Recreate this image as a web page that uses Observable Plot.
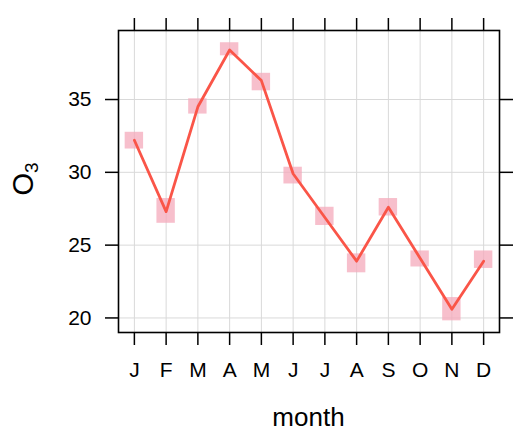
<!DOCTYPE html>
<html>
<head>
<meta charset="utf-8">
<script src="https://cdn.jsdelivr.net/npm/d3@7"></script>
<script src="https://cdn.jsdelivr.net/npm/@observablehq/plot@0.6"></script>
<style>
  html, body { margin: 0; padding: 0; background: #fff; }
  #chart svg { display: block; }
  #chart svg g[aria-label$="tick label"] text { font-size: 21px !important; }
</style>
</head>
<body>
<div id="chart"></div>
<script>
const monthLabels = ["J", "F", "M", "A", "M", "J", "J", "A", "S", "O", "N", "D"];
const monthIndex = [1, 2, 3, 4, 5, 6, 7, 8, 9, 10, 11, 12];
const o3Mean  = [32.2, 27.3, 34.5, 38.4, 36.3, 29.9, 26.9, 23.9, 27.6, 24.1, 20.6, 23.9];
const o3Lower = [31.6, 26.5, 34.0, 38.0, 35.6, 29.2, 26.35, 23.1, 27.0, 23.5, 19.8, 23.4];
const o3Upper = [32.75, 28.2, 35.05, 38.9, 36.8, 30.35, 27.6, 24.4, 28.2, 24.6, 21.4, 24.6];
const yTicks = [20, 25, 30, 35];

const data = monthIndex.map((m, i) => ({
  m, label: monthLabels[i], mean: o3Mean[i], lo: o3Lower[i], hi: o3Upper[i]
}));

const font = "'Liberation Sans', Arial, Helvetica, sans-serif";
const halfBox = 0.29;

const chart = Plot.plot({
  width: 518,
  height: 434,
  marginLeft: 118,
  marginRight: 19,
  marginTop: 30,
  marginBottom: 102,
  style: { fontFamily: font, background: "#fff", color: "#000" },
  x: { type: "linear", domain: [0.5, 12.5] },
  y: { domain: [19.0, 39.74] },
  marks: [
    Plot.gridX(monthIndex, { stroke: "#d9d9d9", strokeOpacity: 1, strokeWidth: 1 }),
    Plot.gridY(yTicks, { stroke: "#d9d9d9", strokeOpacity: 1, strokeWidth: 1 }),
    Plot.rect(data, {
      x1: d => d.m - halfBox, x2: d => d.m + halfBox,
      y1: "lo", y2: "hi",
      fill: "#f4a9bb", fillOpacity: 0.75
    }),
    Plot.line(data, { x: "m", y: "mean", stroke: "#fa5548", strokeWidth: 2.8 }),
    Plot.frame({ stroke: "#000", strokeWidth: 1.6 }),
    Plot.axisX(monthIndex, {
      anchor: "bottom", tickSize: 13, tickPadding: 17,
      strokeWidth: 1.5, tickFormat: i => monthLabels[i - 1], label: null
    }),
    Plot.axisX(monthIndex, {
      anchor: "top", tickSize: 13, strokeWidth: 1.5, tickFormat: () => "", label: null
    }),
    Plot.axisY(yTicks, {
      anchor: "left", tickSize: 13, tickPadding: 14,
      strokeWidth: 1.5, label: null
    }),
    Plot.axisY(yTicks, {
      anchor: "right", tickSize: 13, strokeWidth: 1.5, tickFormat: () => "", label: null
    })
  ]
});

const svg = d3.select(chart);
svg.selectAll("text").attr("font-size", 21).style("font-size", "21px").style("font-family", font);
// x axis title
svg.append("text")
  .attr("x", 308.5).attr("y", 426)
  .attr("text-anchor", "middle")
  .style("font-family", font)
  .style("font-size", "26px")
  .attr("fill", "#000")
  .text("month");
// y axis title O3 with subscript
const yl = svg.append("text")
  .attr("transform", "translate(33,179) rotate(-90)")
  .attr("text-anchor", "middle")
  .style("font-family", font)
  .attr("fill", "#000");
yl.append("tspan").style("font-size", "29px").text("O");
yl.append("tspan").style("font-size", "19px").attr("dy", 5).text("3");

document.getElementById("chart").appendChild(chart);
</script>
</body>
</html>
